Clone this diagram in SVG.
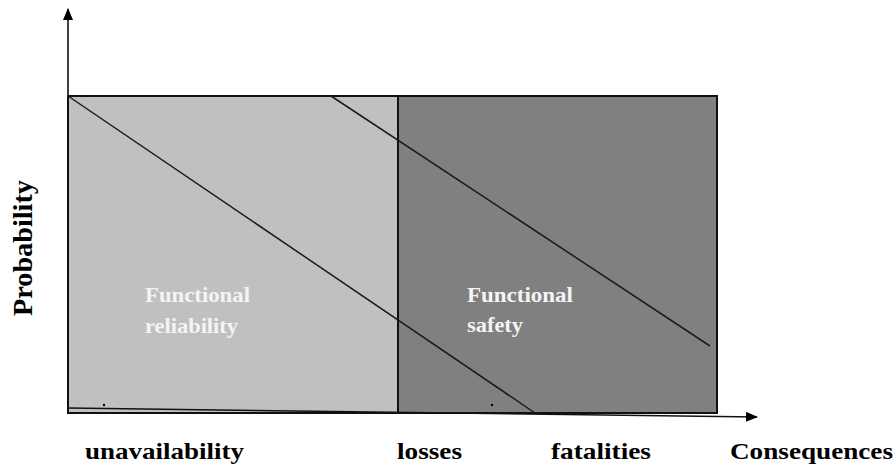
<svg xmlns="http://www.w3.org/2000/svg" width="895" height="466" viewBox="0 0 895 466">
  <style>
    .label { font-family: "Liberation Serif", "Times New Roman", serif; font-weight: bold; fill: #000; }
    .inner { font-family: "Liberation Serif", "Times New Roman", serif; font-weight: bold; fill: #f4f4f4; font-size: 21px; }
    .border { fill: none; stroke: #111; stroke-width: 2; }
    .trend { stroke: #1a1a1a; stroke-width: 1.5; fill: none; }
    .axis { stroke: #111; stroke-width: 1.6; fill: none; }
  </style>
  <defs>
    <marker id="arrow" viewBox="0 0 12 10" refX="11" refY="5" markerWidth="12" markerHeight="10" markerUnits="userSpaceOnUse" orient="auto">
      <path d="M0,0 L12,5 L0,10 Z" fill="#000"/>
    </marker>
  </defs>

  <rect width="895" height="466" fill="#fff"/>

  <!-- reliability region -->
  <g id="reliability">
    <rect x="68" y="96" width="330" height="317" fill="#c0c0c0"/>
    <text class="inner" x="145" y="302" textLength="105" lengthAdjust="spacingAndGlyphs">Functional</text>
    <text class="inner" x="145" y="333" textLength="93" lengthAdjust="spacingAndGlyphs">reliability</text>
    <circle cx="104" cy="405" r="1.2" fill="#000"/>
  </g>

  <!-- safety region -->
  <g id="safety">
    <rect x="398" y="96" width="319" height="317" fill="#808080"/>
    <text class="inner" x="467" y="302" textLength="106" lengthAdjust="spacingAndGlyphs">Functional</text>
    <text class="inner" x="467" y="332" textLength="56" lengthAdjust="spacingAndGlyphs">safety</text>
    <circle cx="492" cy="405" r="1.2" fill="#000"/>
  </g>

  <!-- frame and divider -->
  <g id="frame">
    <rect class="border" x="68" y="96" width="649" height="317"/>
    <line class="border" x1="398" y1="96" x2="398" y2="413"/>
  </g>

  <!-- connectors: axes and trend lines -->
  <g id="connectors">
    <line class="axis" x1="68" y1="413" x2="68" y2="9" marker-end="url(#arrow)"/>
    <line class="axis" x1="68" y1="408" x2="757" y2="417" marker-end="url(#arrow)"/>
    <line class="trend" x1="68" y1="96" x2="535" y2="413"/>
    <line class="trend" x1="331" y1="96" x2="710" y2="346"/>
  </g>

  <!-- axis labels -->
  <g id="labels">
    <text class="label" font-size="28" transform="translate(32,316) rotate(-90)" textLength="136" lengthAdjust="spacingAndGlyphs">Probability</text>
    <text class="label" font-size="24" x="85" y="459" textLength="159" lengthAdjust="spacingAndGlyphs">unavailability</text>
    <text class="label" font-size="24" x="397" y="459" textLength="65" lengthAdjust="spacingAndGlyphs">losses</text>
    <text class="label" font-size="24" x="551" y="459" textLength="100" lengthAdjust="spacingAndGlyphs">fatalities</text>
    <text class="label" font-size="24" x="730" y="459" textLength="163" lengthAdjust="spacingAndGlyphs">Consequences</text>
  </g>
</svg>
